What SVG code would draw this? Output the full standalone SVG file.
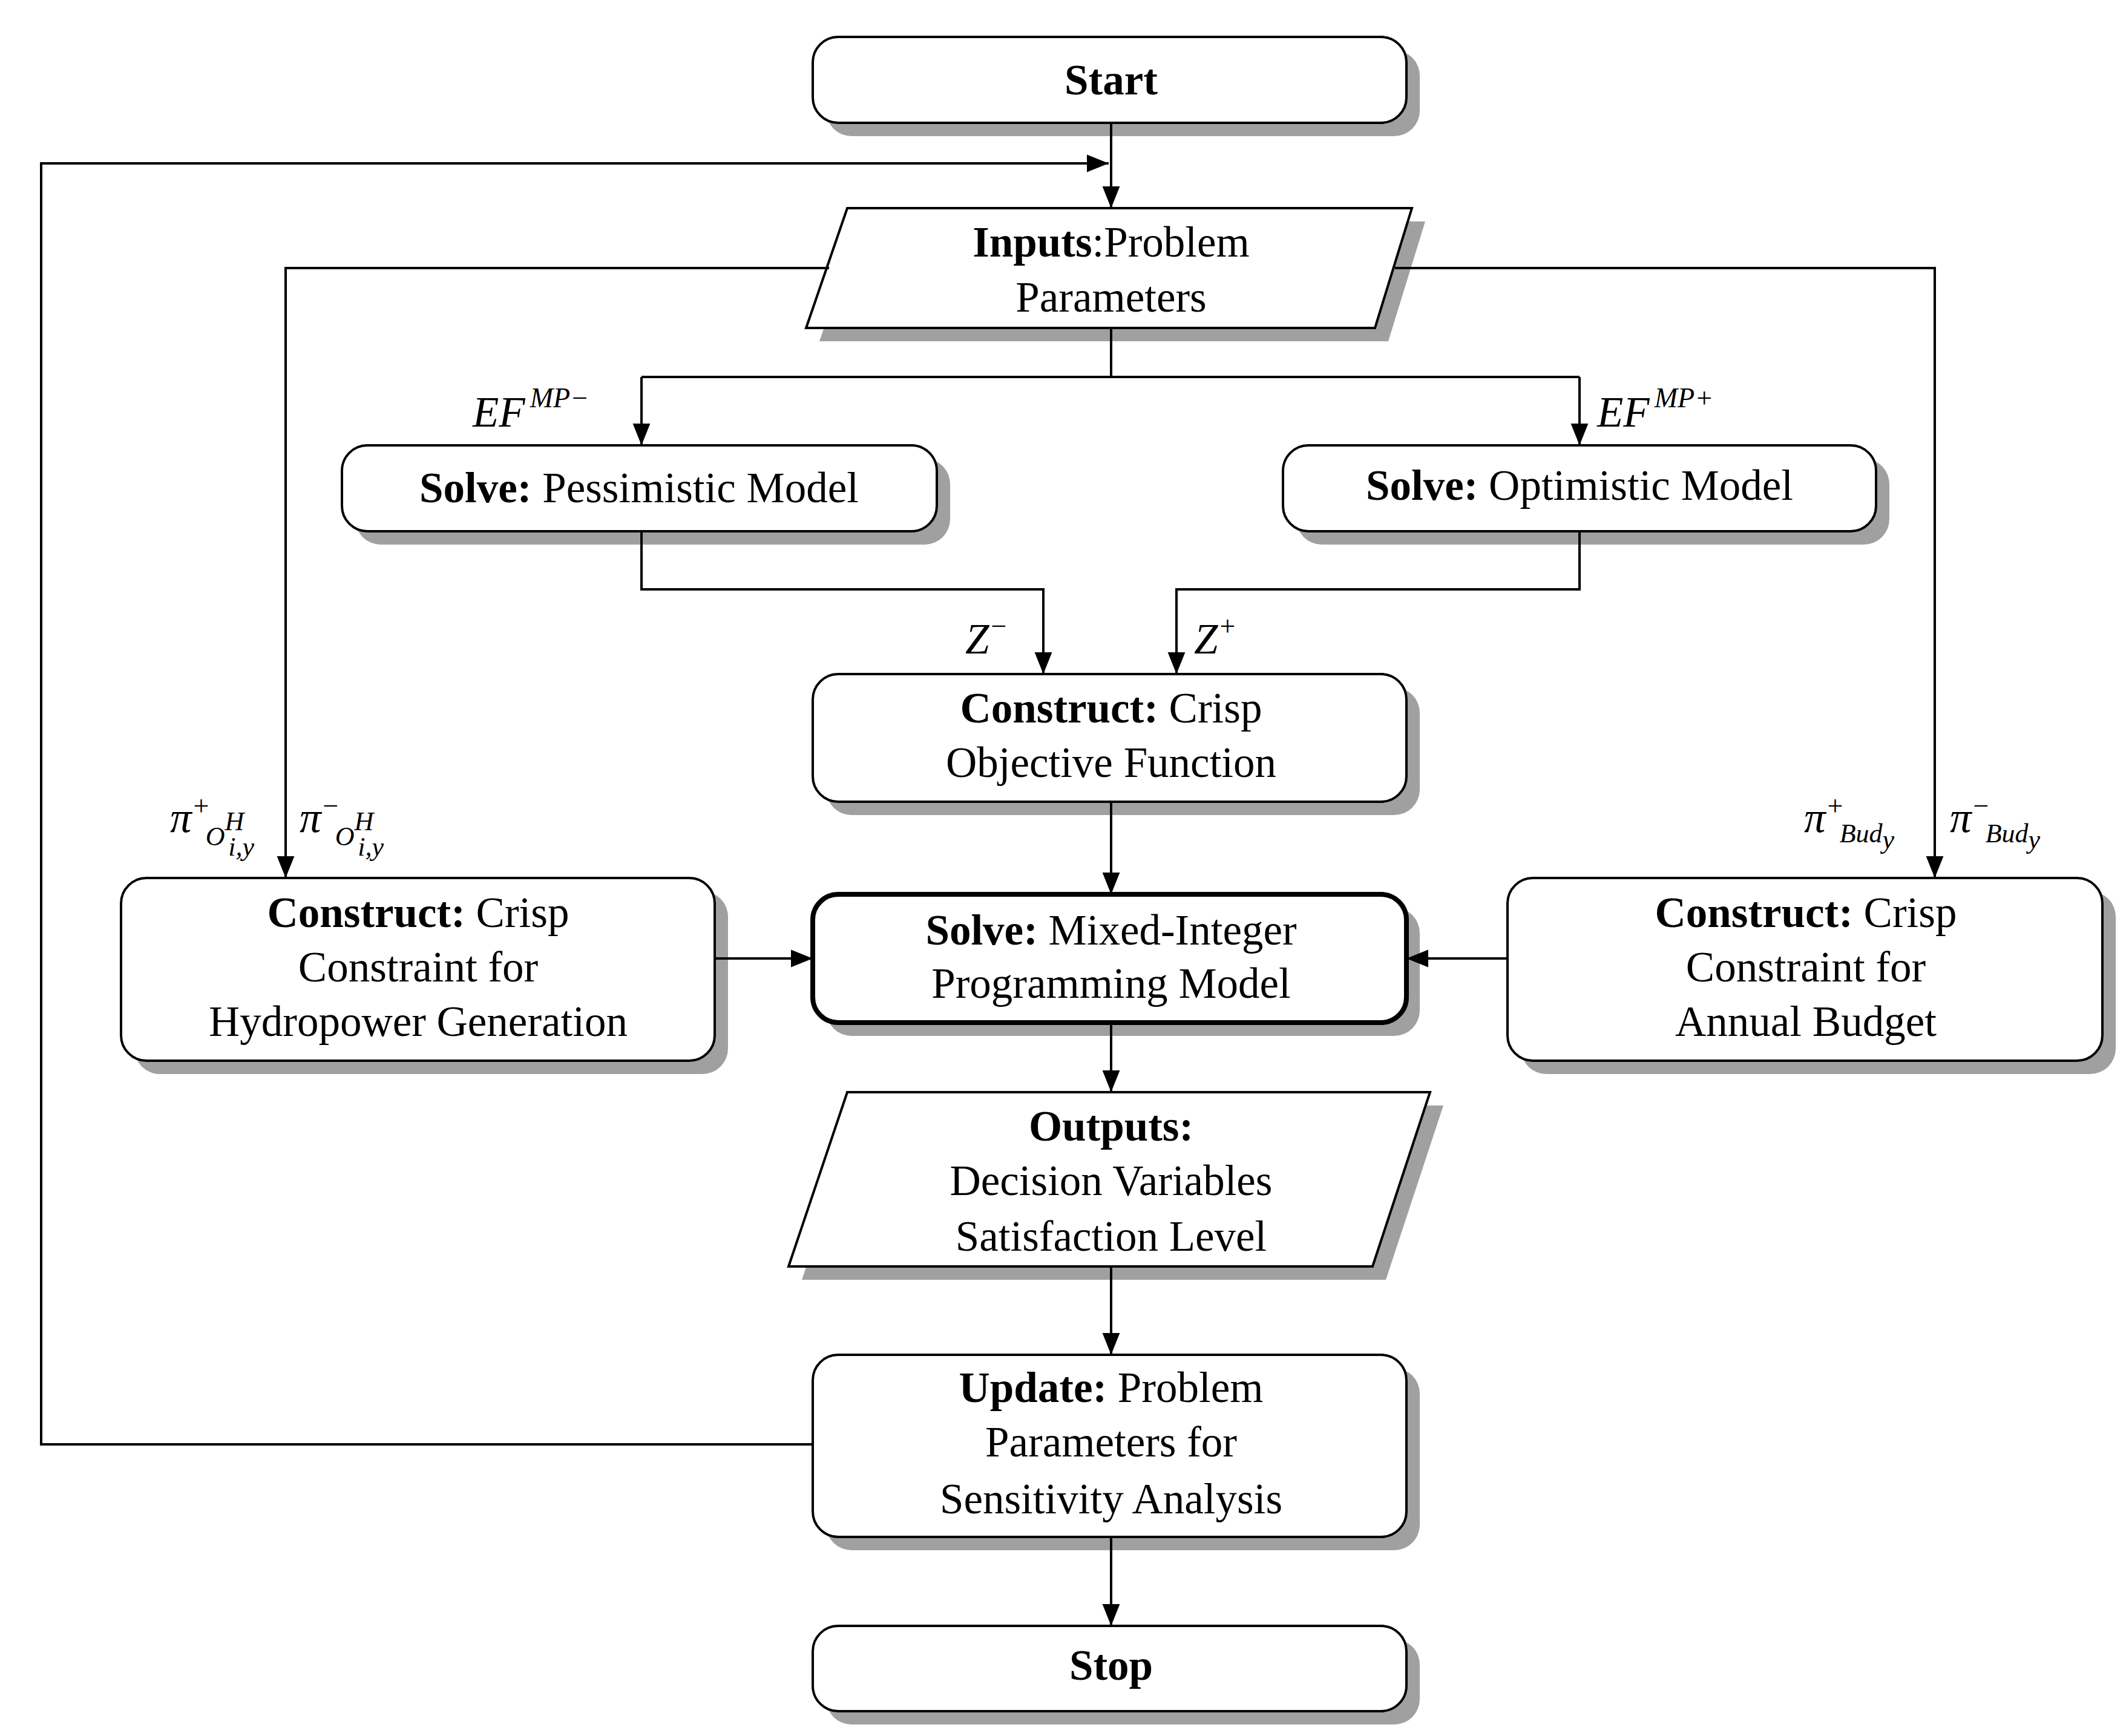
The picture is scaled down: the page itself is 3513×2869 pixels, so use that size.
<svg xmlns="http://www.w3.org/2000/svg" width="3513" height="2869" viewBox="0 0 3513 2869">
<defs>
<marker id="ah" viewBox="0 0 10 10" refX="10" refY="5" markerWidth="36" markerHeight="36" markerUnits="userSpaceOnUse" orient="auto"><path d="M0,1 L10,5 L0,9 Z" fill="#000"/></marker>
<style>
.b{fill:#fff;stroke:#000;stroke-width:4}
.bt{fill:#fff;stroke:#000;stroke-width:8}
.s{fill:#a0a0a0}
.c{fill:none;stroke:#000;stroke-width:4;marker-end:url(#ah)}
.n{fill:none;stroke:#000;stroke-width:4}
text{font-family:"Liberation Serif","DejaVu Serif",serif;font-size:71px;text-anchor:middle;dominant-baseline:central;fill:#000}
.bd{font-weight:bold}
.m{font-style:italic;text-anchor:start;dominant-baseline:auto}
.sup{font-size:46px}
.sub{font-size:44px}
</style>
</defs>
<rect width="3513" height="2869" fill="#fff"/>
<g id="start"><rect class="s" x="1365" y="83" width="981" height="142" rx="42"/><rect class="b" x="1343" y="61" width="981" height="142" rx="42"/><text x="1836" y="132" class="bd" font-size="84">Start</text></g>
<g id="inputs"><polygon class="s" points="1422,366 2355,366 2294,564 1354,564"/><polygon class="b" points="1400,344 2333,344 2272,542 1332,542"/><text x="1836" y="400"><tspan class="bd">Inputs</tspan>:Problem</text><text x="1836" y="491">Parameters</text></g>
<g id="pess"><rect class="s" x="587" y="758" width="983" height="142" rx="42"/><rect class="b" x="565" y="736" width="983" height="142" rx="42"/><text x="1056" y="806"><tspan class="bd">Solve:</tspan> Pessimistic Model</text></g>
<g id="opt"><rect class="s" x="2142" y="758" width="980" height="142" rx="42"/><rect class="b" x="2120" y="736" width="980" height="142" rx="42"/><text x="2610" y="802"><tspan class="bd">Solve:</tspan> Optimistic Model</text></g>
<g id="crisp"><rect class="s" x="1365" y="1136" width="981" height="211" rx="42"/><rect class="b" x="1343" y="1114" width="981" height="211" rx="42"/><text x="1836" y="1170"><tspan class="bd">Construct:</tspan> Crisp</text><text x="1836" y="1260">Objective Function</text></g>
<g id="hydro"><rect class="s" x="222" y="1473" width="981" height="302" rx="42"/><rect class="b" x="200" y="1451" width="981" height="302" rx="42"/><text x="691" y="1508"><tspan class="bd">Construct:</tspan> Crisp</text><text x="691" y="1598">Constraint for</text><text x="691" y="1688">Hydropower Generation</text></g>
<g id="mip"><rect class="s" x="1365" y="1500" width="981" height="212" rx="42"/><rect class="bt" x="1343" y="1478" width="981" height="212" rx="42"/><text x="1836" y="1537"><tspan class="bd">Solve:</tspan> Mixed-Integer</text><text x="1836" y="1625">Programming Model</text></g>
<g id="budget"><rect class="s" x="2513" y="1473" width="983" height="302" rx="42"/><rect class="b" x="2491" y="1451" width="983" height="302" rx="42"/><text x="2984" y="1508"><tspan class="bd">Construct:</tspan> Crisp</text><text x="2984" y="1598">Constraint for</text><text x="2984" y="1688">Annual Budget</text></g>
<g id="outputs"><polygon class="s" points="1422,1827 2385,1827 2290,2115 1325,2115"/><polygon class="b" points="1400,1805 2363,1805 2268,2093 1303,2093"/><text x="1836" y="1861" class="bd">Outputs:</text><text x="1836" y="1951">Decision Variables</text><text x="1836" y="2043">Satisfaction Level</text></g>
<g id="update"><rect class="s" x="1365" y="2261" width="981" height="301" rx="42"/><rect class="b" x="1343" y="2239" width="981" height="301" rx="42"/><text x="1836" y="2293"><tspan class="bd">Update:</tspan> Problem</text><text x="1836" y="2383">Parameters for</text><text x="1836" y="2477">Sensitivity Analysis</text></g>
<g id="stop"><rect class="s" x="1365" y="2709" width="981" height="141" rx="42"/><rect class="b" x="1343" y="2687" width="981" height="141" rx="42"/><text x="1836" y="2752" class="bd" font-size="84">Stop</text></g>
<g id="connectors">
<path class="c" d="M1836,203 V344"/>
<path class="c" d="M1343,2387 H68 V270 H1832"/>
<path class="c" d="M1370,443 H472 V1451"/>
<path class="c" d="M2305,443 H3197 V1451"/>
<path class="n" d="M1836,542 V623 H1060"/>
<path class="c" d="M1060,623 V736"/>
<path class="n" d="M1836,623 H2610"/>
<path class="c" d="M2610,623 V736"/>
<path class="c" d="M1060,878 V974 H1724 V1114"/>
<path class="c" d="M2610,878 V974 H1944 V1114"/>
<path class="c" d="M1836,1325 V1478"/>
<path class="c" d="M1181,1584 H1343"/>
<path class="c" d="M2491,1584 H2324"/>
<path class="c" d="M1836,1690 V1805"/>
<path class="c" d="M1836,2093 V2239"/>
<path class="c" d="M1836,2540 V2687"/>
</g>
<g id="labels">
<text class="m" x="781" y="705" font-size="74">EF<tspan class="sup" dx="8" dy="-32">MP−</tspan></text>
<text class="m" x="2639" y="705" font-size="74">EF<tspan class="sup" dx="8" dy="-32">MP+</tspan></text>
<text class="m" x="1595" y="1080" font-size="74">Z<tspan class="sup" dy="-30">−</tspan></text>
<text class="m" x="1973" y="1080" font-size="74">Z<tspan class="sup" dy="-30">+</tspan></text>
<text class="m" x="281" y="1375">π<tspan class="sup" dy="-28">+</tspan><tspan class="sub" dx="-8" dy="50">O</tspan><tspan class="sub" font-size="34" dy="-25">H</tspan><tspan class="sub" font-size="34" dx="-26" dy="42">i,y</tspan></text>
<text class="m" x="495" y="1375">π<tspan class="sup" dy="-28">−</tspan><tspan class="sub" dx="-8" dy="50">O</tspan><tspan class="sub" font-size="34" dy="-25">H</tspan><tspan class="sub" font-size="34" dx="-26" dy="42">i,y</tspan></text>
<text class="m" x="2981" y="1375">π<tspan class="sup" dy="-28">+</tspan><tspan class="sub" dx="-8" dy="45">Bud</tspan><tspan class="sub" font-size="34" dy="10">y</tspan></text>
<text class="m" x="3222" y="1375">π<tspan class="sup" dy="-28">−</tspan><tspan class="sub" dx="-8" dy="45">Bud</tspan><tspan class="sub" font-size="34" dy="10">y</tspan></text>
</g>
</svg>
